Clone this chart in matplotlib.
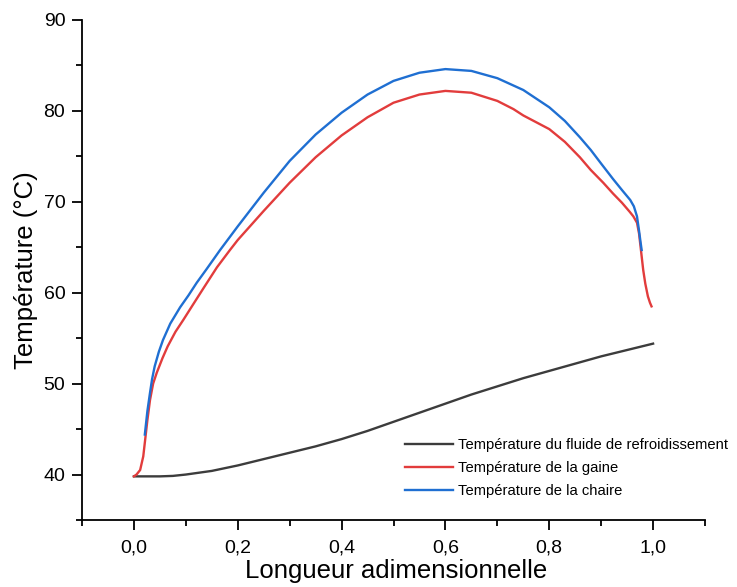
import matplotlib
matplotlib.use("Agg")
import matplotlib.pyplot as plt
from matplotlib.ticker import MultipleLocator, FuncFormatter

plt.rcParams['font.family'] = ['Liberation Sans', 'DejaVu Sans']

# Coolant fluid temperature
x_fluide = [0.0, 0.025, 0.05, 0.075, 0.1, 0.125, 0.15, 0.2, 0.25, 0.3, 0.35, 0.4, 0.45,
            0.5, 0.55, 0.6, 0.65, 0.7, 0.75, 0.8, 0.85, 0.9, 0.95, 1.0]
t_fluide = [39.8, 39.8, 39.8, 39.85, 40.0, 40.2, 40.4, 41.0, 41.7, 42.4, 43.1, 43.9, 44.8,
            45.8, 46.8, 47.8, 48.8, 49.7, 50.6, 51.4, 52.2, 53.0, 53.7, 54.4]

# Cladding temperature
x_gaine = [0.0, 0.005, 0.012, 0.018, 0.021, 0.026, 0.031, 0.037, 0.044, 0.055, 0.065,
           0.08, 0.095, 0.115, 0.134, 0.16, 0.185, 0.2, 0.25, 0.3, 0.35, 0.4, 0.45,
           0.5, 0.55, 0.6, 0.65, 0.7, 0.731, 0.75, 0.8, 0.83, 0.859, 0.88, 0.904,
           0.923, 0.94, 0.955, 0.962, 0.969, 0.973, 0.977, 0.981, 0.985, 0.99,
           0.994, 0.997]
t_gaine = [39.8, 40.0, 40.5, 42.0, 43.5, 46.0, 48.2, 50.0, 51.2, 52.8, 54.1,
           55.7, 57.0, 58.8, 60.5, 62.8, 64.7, 65.8, 69.0, 72.1, 74.9, 77.3, 79.3,
           80.9, 81.8, 82.2, 82.0, 81.1, 80.2, 79.5, 78.0, 76.6, 74.9, 73.5, 72.1,
           70.9, 69.9, 68.9, 68.4, 67.7, 66.5, 64.5, 62.5, 61.0, 59.6,
           58.9, 58.5]

# Flesh (chaire) temperature
x_chaire = [0.021, 0.026, 0.031, 0.035, 0.040, 0.048, 0.056, 0.07, 0.089, 0.105, 0.121,
            0.14, 0.166, 0.2, 0.25, 0.3, 0.35, 0.4, 0.45, 0.5, 0.55, 0.6, 0.65, 0.7,
            0.75, 0.8, 0.83, 0.859, 0.88, 0.9, 0.923, 0.94, 0.956, 0.963, 0.969,
            0.973, 0.976, 0.978]
t_chaire = [44.4, 47.0, 49.0, 50.5, 51.9, 53.5, 54.8, 56.6, 58.4, 59.7, 61.1,
            62.6, 64.7, 67.3, 71.0, 74.5, 77.4, 79.8, 81.8, 83.3, 84.2, 84.6, 84.4, 83.6,
            82.3, 80.4, 78.9, 77.1, 75.7, 74.2, 72.5, 71.3, 70.2, 69.5, 68.4,
            66.8, 65.5, 64.7]

labels = ["Température du fluide de refroidissement",
          "Température de la gaine",
          "Température de la chaire"]
colors = ["#3c3c3c", "#e23c3c", "#1f6fd2"]

fig = plt.figure(figsize=(7.37, 5.87), dpi=100)
ax = fig.add_axes([82/737, 67/587, (705-82)/737, (520-20)/587])

ax.plot(x_fluide, t_fluide, color=colors[0], lw=1.7, label=labels[0], solid_joinstyle="round")
ax.plot(x_gaine, t_gaine, color=colors[1], lw=1.7, label=labels[1], solid_joinstyle="round")
ax.plot(x_chaire, t_chaire, color=colors[2], lw=1.7, label=labels[2], solid_joinstyle="round")

ax.set_xlim(-0.1, 1.1)
ax.set_ylim(35, 90)
ax.xaxis.set_major_locator(MultipleLocator(0.2))
ax.xaxis.set_minor_locator(MultipleLocator(0.1))
ax.yaxis.set_major_locator(MultipleLocator(10))
ax.yaxis.set_minor_locator(MultipleLocator(5))
ax.xaxis.set_major_formatter(FuncFormatter(lambda v, p: f"{v:.1f}".replace(".", ",")))
ax.yaxis.set_major_formatter(FuncFormatter(lambda v, p: f"{v:.0f}"))

for s in ["top", "right"]:
    ax.spines[s].set_visible(False)
for s in ["left", "bottom"]:
    ax.spines[s].set_linewidth(1.3)
ax.tick_params(which="major", direction="out", length=7, width=1.3, labelsize=14)
ax.tick_params(axis="x", which="major", pad=7)
ax.tick_params(axis="y", which="major", pad=5)
ax.tick_params(which="minor", direction="out", length=4, width=1.3)

ax.set_xlabel("Longueur adimensionnelle", fontsize=18.5, va="top")
ax.xaxis.set_label_coords(0.505, -0.078)
ax.set_ylabel("Température (°C)", fontsize=18.5)
ax.yaxis.set_label_coords(-0.07, 0.5)

leg = ax.legend(loc="upper left", bbox_to_anchor=(405/737, 1 - 438/587),
                bbox_transform=fig.transFigure, frameon=False, fontsize=10.6,
                handlelength=3.26, handletextpad=0.34, labelspacing=0.62,
                borderpad=0, borderaxespad=0)

fig.savefig("out.png", dpi=100)
